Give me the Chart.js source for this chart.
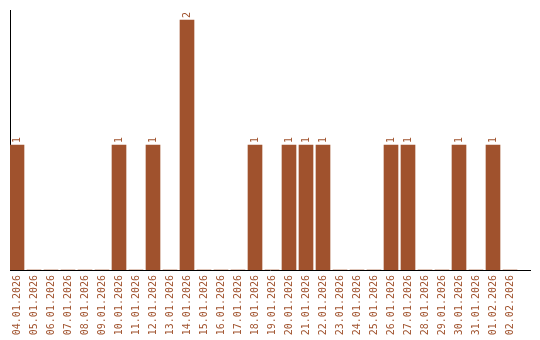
<!DOCTYPE html>
<html>
<head>
<meta charset="utf-8">
<script src="https://cdn.jsdelivr.net/npm/chart.js@4"></script>
<style>html,body{margin:0;padding:0;background:#fff;}canvas{display:block;}</style>
</head>
<body>
<canvas id="c" width="540" height="340"></canvas>
<script>
const categories = ["04.01.2026","05.01.2026","06.01.2026","07.01.2026","08.01.2026","09.01.2026","10.01.2026","11.01.2026","12.01.2026","13.01.2026","14.01.2026","15.01.2026","16.01.2026","17.01.2026","18.01.2026","19.01.2026","20.01.2026","21.01.2026","22.01.2026","23.01.2026","24.01.2026","25.01.2026","26.01.2026","27.01.2026","28.01.2026","29.01.2026","30.01.2026","31.01.2026","01.02.2026","02.02.2026"];
const counts = [1,0,0,0,0,0,1,0,1,0,2,0,0,0,1,0,1,1,1,0,0,0,1,1,0,0,1,0,1,0];

const COLOR = '#A0522D';
const FONT = {family: 'DejaVu Sans Mono', size: 10};

const valueLabels = {
  id: 'valueLabels',
  afterDatasetsDraw(chart) {
    const ctx = chart.ctx;
    const meta = chart.getDatasetMeta(0);
    ctx.save();
    ctx.fillStyle = COLOR;
    ctx.font = FONT.size + 'px "' + FONT.family + '"';
    ctx.textAlign = 'left';
    ctx.textBaseline = 'middle';
    meta.data.forEach((el, i) => {
      const v = counts[i];
      if (!v) return;
      ctx.save();
      ctx.translate(el.x, el.y - 2);
      ctx.rotate(-Math.PI / 2);
      ctx.fillText(String(v), 0, 0);
      ctx.restore();
    });
    ctx.restore();
  }
};

const xMin = -7 / 17;
const xMax = xMin + 520 / 17;

new Chart(document.getElementById('c'), {
  type: 'bar',
  data: {
    datasets: [{
      data: counts.map((v, i) => ({x: i, y: v})),
      backgroundColor: COLOR,
      borderWidth: 0,
      barThickness: 14
    }]
  },
  options: {
    responsive: false,
    animation: false,
    events: [],
    layout: {padding: {left: 10, top: 10, right: 10, bottom: 0}},
    plugins: {legend: {display: false}, tooltip: {enabled: false}},
    scales: {
      x: {
        type: 'linear',
        offset: false,
        min: xMin,
        max: xMax,
        grid: {display: false, drawTicks: false, offset: false},
        border: {display: true, color: '#000', width: 1},
        afterFit(s) { s.height = 70; s.paddingLeft = 0; s.paddingRight = 0; },
        ticks: {
          stepSize: 1,
          includeBounds: false,
          maxTicksLimit: 100,
          autoSkip: false,
          maxRotation: 90,
          minRotation: 90,
          padding: 5,
          color: COLOR,
          font: FONT,
          callback: (v) => (Number.isInteger(v) && categories[v] !== undefined) ? categories[v] : ''
        }
      },
      y: {
        min: 0,
        max: 2.08,
        grid: {display: false, drawTicks: false},
        border: {display: true, color: '#000', width: 1},
        ticks: {display: false},
        afterFit(s) { s.width = 0; s.paddingTop = 0; s.paddingBottom = 0; }
      }
    }
  },
  plugins: [valueLabels]
});
</script>
</body>
</html>
